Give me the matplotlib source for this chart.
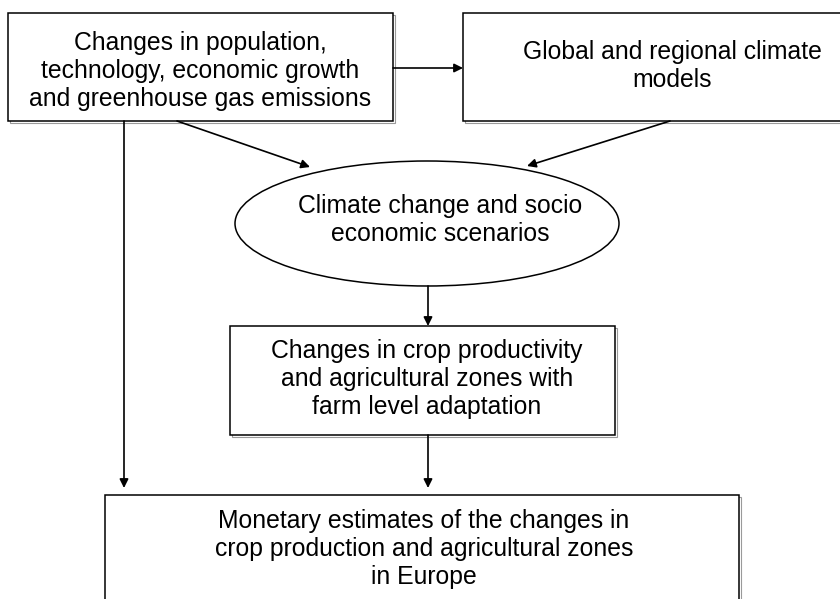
import matplotlib
matplotlib.use("Agg")
import matplotlib.pyplot as plt
from matplotlib.patches import Rectangle, Ellipse

# ---- node texts ----
box_labels = [
    "Changes in population,\ntechnology, economic growth\nand greenhouse gas emissions",
    "Global and regional climate\nmodels",
    "Changes in crop productivity\nand agricultural zones with\nfarm level adaptation",
    "Monetary estimates of the changes in\ncrop production and agricultural zones\nin Europe",
]
ellipse_label = "Climate change and socio\neconomic scenarios"

# ---- geometry (pixel coords, y downwards) ----
boxes = [(8, 13, 393, 121), (463, 13, 881, 121), (230, 326, 615, 435), (105, 495, 739, 640)]
box_text_xy = [(200, 71), (672, 66), (427, 379), (424, 549)]
ell_center, ell_w, ell_h = (427, 223.5), 384, 125
ell_text_xy = (440, 220)

# arrows: (x0, y0, x1, y1)
arrows = [
    (393, 68, 463, 68),
    (177, 121, 310, 167),
    (670, 121, 527, 166),
    (428, 286, 428, 326),
    (428, 435, 428, 488),
    (124, 121, 124, 488),
]

plt.rcParams["font.family"] = ["Liberation Sans", "DejaVu Sans"]

fig = plt.figure(figsize=(8.4, 5.99), dpi=100)
ax = fig.add_axes([0, 0, 1, 1])
ax.set_xlim(0, 840)
ax.set_ylim(599, 0)
ax.axis("off")

FS = 17.8
LSP = 1.2
LW = 1.1

for (x0, y0, x1, y1), lbl, (tx, ty) in zip(boxes, box_labels, box_text_xy):
    # faint shadow
    ax.add_patch(Rectangle((x0 + 1.5, y0 + 1.5), x1 - x0, y1 - y0,
                           facecolor="none", edgecolor="#9a9a9a", lw=0.8, zorder=1))
    ax.add_patch(Rectangle((x0, y0), x1 - x0, y1 - y0,
                           facecolor="white", edgecolor="black", lw=LW, zorder=2))
    ax.text(tx, ty, lbl, ha="center", va="center", fontsize=FS,
            linespacing=LSP, zorder=3)

ax.add_patch(Ellipse(ell_center, ell_w, ell_h, facecolor="white",
                     edgecolor="black", lw=LW, zorder=2))
ax.text(ell_text_xy[0], ell_text_xy[1], ellipse_label, ha="center", va="center",
        fontsize=FS, linespacing=LSP, zorder=3)

for x0, y0, x1, y1 in arrows:
    ax.annotate("", xy=(x1, y1), xytext=(x0, y0),
                arrowprops=dict(arrowstyle="-|>", color="black", lw=1.2,
                                mutation_scale=13, shrinkA=0, shrinkB=0),
                zorder=4)

fig.savefig("out.png", dpi=100, facecolor="white")
